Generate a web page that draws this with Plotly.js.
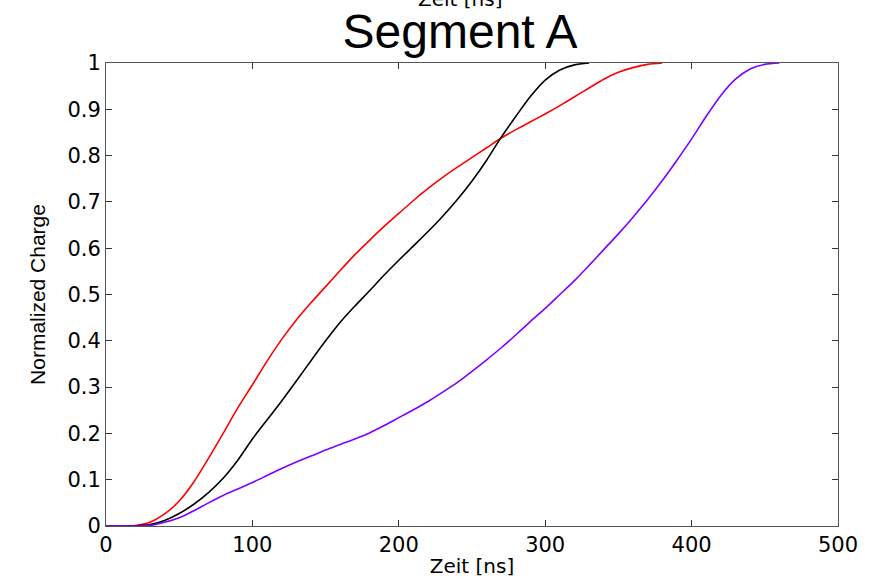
<!DOCTYPE html>
<html>
<head>
<meta charset="utf-8">
<script src="https://cdn.plot.ly/plotly-3.0.1.min.js"></script>
<style>html,body{margin:0;padding:0;background:#fff;}#chart{width:881px;height:580px;}</style>
</head>
<body>
<div id="chart"></div>
<script>
// Time axis (ns) and normalized charge per series
const redTime = [0,10,20,30,40,50,60,70,80,90,100,110,120,130,140,150,160,170,180,190,200,210,220,230,240,250,260,270,280,290,300,310,320,330,340,350,360,370,380];
const redCharge = [0,0,0.001,0.008,0.026,0.054,0.095,0.146,0.2,0.255,0.305,0.356,0.403,0.445,0.482,0.517,0.552,0.586,0.617,0.647,0.675,0.703,0.729,0.753,0.775,0.796,0.817,0.838,0.856,0.873,0.89,0.908,0.927,0.946,0.965,0.98,0.99,0.997,1.0];

const blackTime = [0,10,20,30,40,50,60,70,80,90,100,110,120,130,140,150,160,170,180,190,200,210,220,230,240,250,260,270,280,290,300,310,320,330];
const blackCharge = [0,0,0,0.003,0.012,0.027,0.047,0.072,0.103,0.142,0.188,0.229,0.27,0.313,0.357,0.4,0.44,0.475,0.508,0.542,0.574,0.605,0.636,0.669,0.705,0.745,0.79,0.84,0.885,0.928,0.963,0.985,0.996,1.0];

const purpleTime = [0,10,20,30,40,50,60,70,80,90,100,110,120,130,140,150,160,170,180,190,200,210,220,230,240,250,260,270,280,290,300,310,320,330,340,350,360,370,380,390,400,410,420,430,440,450,460];
const purpleCharge = [0,0,0,0.001,0.008,0.018,0.033,0.05,0.066,0.08,0.094,0.109,0.124,0.138,0.151,0.164,0.176,0.188,0.201,0.217,0.234,0.251,0.269,0.289,0.31,0.334,0.359,0.385,0.413,0.442,0.47,0.5,0.53,0.563,0.597,0.631,0.667,0.705,0.746,0.79,0.836,0.885,0.93,0.965,0.987,0.997,1.0];

const xTicks = [0,100,200,300,400,500];
const yTicks = [0,0.1,0.2,0.3,0.4,0.5,0.6,0.7,0.8,0.9,1];
const yTickText = ['0','0.1','0.2','0.3','0.4','0.5','0.6','0.7','0.8','0.9','1'];

const titleText = 'Segment A';
const xTitle = 'Zeit [ns]';
const yTitle = 'Normalized Charge';

const lineStyle = (c) => ({color: c, width: 1.6, shape: 'spline', smoothing: 0.7});
const traces = [
  {x: redTime, y: redCharge, mode: 'lines', line: lineStyle('rgb(255,0,0)'), hoverinfo: 'skip'},
  {x: blackTime, y: blackCharge, mode: 'lines', line: lineStyle('rgb(0,0,0)'), hoverinfo: 'skip'},
  {x: purpleTime, y: purpleCharge, mode: 'lines', line: lineStyle('rgb(127,0,255)'), hoverinfo: 'skip'}
];

const tickFont = {family: 'DejaVu Sans, sans-serif', size: 21, color: '#000'};

const layout = {
  width: 881, height: 580,
  margin: {l: 106, r: 43, t: 63, b: 54, pad: 0},
  paper_bgcolor: '#fff', plot_bgcolor: '#fff',
  showlegend: false,
  title: {text: titleText, font: {family: 'Liberation Sans, Arial, sans-serif', size: 48, color: '#000'},
          x: 460/881, xanchor: 'center', xref: 'container', y: 1 - 31/580, yanchor: 'middle', yref: 'container'},
  xaxis: {
    range: [0, 500], tickvals: xTicks, ticktext: xTicks.map(String),
    ticks: 'inside', ticklen: 6, tickcolor: '#333', tickwidth: 1,
    showline: true, linecolor: '#555', linewidth: 1, mirror: 'ticks',
    showgrid: false, zeroline: false, tickfont: tickFont,
    title: {text: xTitle, font: {family: 'DejaVu Sans, sans-serif', size: 20, color: '#000'}, standoff: 2}
  },
  yaxis: {
    range: [0, 1], tickvals: yTicks, ticktext: yTickText,
    ticks: 'inside', ticklen: 6, tickcolor: '#333', tickwidth: 1,
    showline: true, linecolor: '#555', linewidth: 1, mirror: 'ticks',
    showgrid: false, zeroline: false, tickfont: tickFont,
    title: {text: yTitle, font: {family: 'Liberation Sans, Arial, sans-serif', size: 21, color: '#000'}, standoff: 16}
  },
  annotations: [
    {text: xTitle, xref: 'paper', yref: 'paper', x: (460-106)/732, y: 1 + 50/463, xanchor: 'center', yanchor: 'bottom',
     showarrow: false, font: {family: 'DejaVu Sans, sans-serif', size: 20, color: '#000'}}
  ]
};

Plotly.newPlot('chart', traces, layout, {staticPlot: true, displayModeBar: false});
</script>
</body>
</html>
